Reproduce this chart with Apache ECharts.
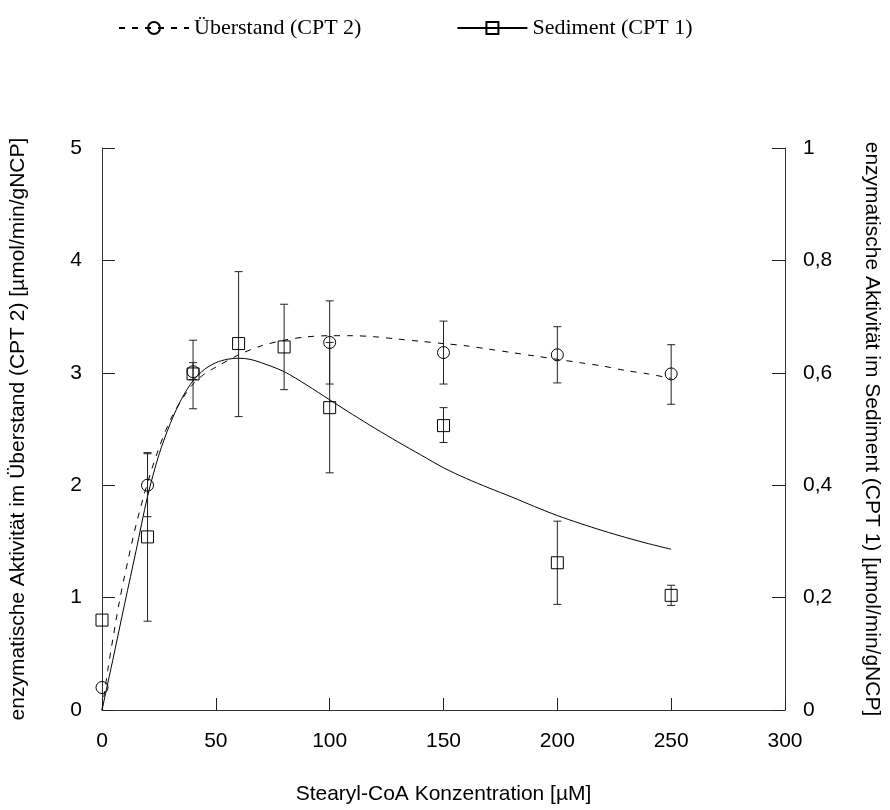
<!DOCTYPE html>
<html>
<head>
<meta charset="utf-8">
<script src="https://cdn.jsdelivr.net/npm/echarts@6/dist/echarts.min.js"></script>
<style>
html,body{margin:0;padding:0;background:#fff;}
#chart{width:890px;height:810px;}
</style>
</head>
<body>
<div id="chart"></div>
<script>
// ---- data ----
// Überstand (CPT 2) measurements, left axis
const cpt2X  = [0, 20, 40, 100, 150, 200, 250];
const cpt2Y  = [0.2, 2.0, 3.01, 3.27, 3.18, 3.16, 2.99];
const cpt2Lo = [0.2, 1.72, 2.68, 2.90, 2.90, 2.91, 2.72];
const cpt2Hi = [0.2, 2.28, 3.29, 3.64, 3.46, 3.41, 3.25];
// Sediment (CPT 1) measurements, right axis
const cpt1X  = [0, 20, 40, 60, 80, 100, 150, 200, 250];
const cpt1Y  = [0.16, 0.308, 0.598, 0.652, 0.646, 0.538, 0.506, 0.262, 0.204];
const cpt1Lo = [0.16, 0.158, 0.588, 0.522, 0.570, 0.422, 0.476, 0.188, 0.186];
const cpt1Hi = [0.16, 0.458, 0.618, 0.780, 0.722, 0.654, 0.538, 0.336, 0.222];
// fitted curves
const fit2X = [0, 2.5, 5, 7.5, 10, 15, 20, 25, 30, 35, 40, 45, 50, 60, 70, 80, 90, 100, 110, 120, 130, 140, 150, 160, 170, 180, 190, 200, 210, 220, 230, 240, 250];
const fit2Y = [0, 0.35, 0.66, 0.95, 1.2, 1.65, 2.02, 2.33, 2.58, 2.76, 2.9, 2.99, 3.05, 3.16, 3.24, 3.29, 3.32, 3.33, 3.33, 3.32, 3.3, 3.28, 3.26, 3.24, 3.21, 3.18, 3.15, 3.12, 3.09, 3.06, 3.02, 2.99, 2.95];
const fit1X = [0, 5, 10, 15, 20, 25, 30, 35, 40, 45, 50, 55, 60, 65, 70, 80, 90, 100, 110, 120, 130, 140, 150, 160, 170, 180, 190, 200, 210, 220, 230, 240, 250];
const fit1Y = [0, 0.094, 0.19, 0.284, 0.38, 0.454, 0.51, 0.554, 0.586, 0.606, 0.618, 0.624, 0.626, 0.624, 0.618, 0.602, 0.578, 0.552, 0.526, 0.501, 0.477, 0.454, 0.431, 0.412, 0.395, 0.379, 0.362, 0.346, 0.332, 0.319, 0.307, 0.296, 0.286];
// axes
const xTicks = {min: 0, max: 300, interval: 50};
const yLeft  = {min: 0, max: 5, interval: 1};
const yRight = {min: 0, max: 1, interval: 0.2};
const nameCPT2 = 'Überstand (CPT 2)';
const nameCPT1 = 'Sediment (CPT 1)';
const xName = 'Stearyl-CoA Konzentration [µM]';
const yLeftName = 'enzymatische Aktivität im Überstand (CPT 2) [µmol/min/gNCP]';
const yRightName = 'enzymatische Aktivität im Sediment (CPT 1) [µmol/min/gNCP]';

const zip = (a, b) => a.map((v, i) => [v, b[i]]);
const zip3 = (a, b, c) => a.map((v, i) => [v, b[i], c[i]]);

const SANS = 'Liberation Sans, Arial, sans-serif';
const SERIF = 'Liberation Serif, Times New Roman, serif';
const INK = '#000';

function errRender(params, api) {
  const x = api.value(0), lo = api.value(1), hi = api.value(2);
  if (hi - lo < 1e-9) return null;
  const p1 = api.coord([x, hi]);
  const p2 = api.coord([x, lo]);
  const w = 4;
  const st = {stroke: '#222', lineWidth: 1};
  return {
    type: 'group',
    children: [
      {type: 'line', shape: {x1: p1[0], y1: p1[1], x2: p2[0], y2: p2[1]}, style: st},
      {type: 'line', shape: {x1: p1[0] - w, y1: p1[1], x2: p1[0] + w, y2: p1[1]}, style: st},
      {type: 'line', shape: {x1: p2[0] - w, y1: p2[1], x2: p2[0] + w, y2: p2[1]}, style: st}
    ]
  };
}

const chart = echarts.init(document.getElementById('chart'), null, {renderer: 'canvas'});
const axisCommon = {
  axisLine: {show: true, lineStyle: {color: '#333', width: 1}},
  axisTick: {show: true, inside: true, lineStyle: {color: '#222', width: 1}},
  splitLine: {show: false},
  axisLabel: {color: INK, fontFamily: SANS, fontSize: 21},
  nameTextStyle: {color: INK, fontFamily: SANS, fontSize: 21}
};
chart.setOption({
  animation: false,
  backgroundColor: '#fff',
  grid: {left: 102, right: 101, top: 148, bottom: 98, containLabel: false},
  legend: {
    data: [nameCPT2, nameCPT1],
    left: 113, top: 12,
    itemWidth: 70, itemHeight: 15, itemGap: 95,
    textStyle: {color: INK, fontFamily: SERIF, fontSize: 22},
    selectedMode: false
  },
  xAxis: Object.assign({}, axisCommon, {
    type: 'value', min: xTicks.min, max: xTicks.max, interval: xTicks.interval,
    name: xName, nameLocation: 'middle', nameGap: 74,
    axisTick: Object.assign({}, axisCommon.axisTick, {length: 12}),
    axisLabel: Object.assign({}, axisCommon.axisLabel, {margin: 21})
  }),
  yAxis: [
    Object.assign({}, axisCommon, {
      type: 'value', position: 'left', min: yLeft.min, max: yLeft.max, interval: yLeft.interval,
      name: yLeftName, nameLocation: 'middle', nameRotate: 90, nameGap: 73,
      axisTick: Object.assign({}, axisCommon.axisTick, {length: 13}),
      axisLabel: Object.assign({}, axisCommon.axisLabel, {margin: 20})
    }),
    Object.assign({}, axisCommon, {
      type: 'value', position: 'right', min: yRight.min, max: yRight.max, interval: yRight.interval,
      name: yRightName, nameLocation: 'middle', nameRotate: -90, nameGap: 76,
      axisTick: Object.assign({}, axisCommon.axisTick, {length: 13}),
      axisLabel: Object.assign({}, axisCommon.axisLabel, {margin: 18,
        formatter: v => String(Math.round(v * 10) / 10).replace('.', ',')})
    })
  ],
  series: [
    {
      name: nameCPT2, type: 'line', yAxisIndex: 0, data: zip(fit2X, fit2Y),
      smooth: 0.3, showSymbol: false, symbol: 'circle', symbolSize: 12,
      lineStyle: {color: INK, width: 1, type: [6, 7]},
      itemStyle: {color: 'rgba(0,0,0,0)', borderColor: INK, borderWidth: 1},
      z: 3, silent: true
    },
    {
      name: nameCPT1, type: 'line', yAxisIndex: 1, data: zip(fit1X, fit1Y),
      smooth: 0.3, showSymbol: false, symbol: 'rect', symbolSize: 12,
      lineStyle: {color: INK, width: 1, type: 'solid'},
      itemStyle: {color: 'rgba(0,0,0,0)', borderColor: INK, borderWidth: 1},
      z: 3, silent: true
    },
    {
      name: 'err2', type: 'custom', yAxisIndex: 0, data: zip3(cpt2X, cpt2Lo, cpt2Hi),
      renderItem: errRender, z: 4, silent: true
    },
    {
      name: 'err1', type: 'custom', yAxisIndex: 1, data: zip3(cpt1X, cpt1Lo, cpt1Hi),
      renderItem: errRender, z: 4, silent: true
    },
    {
      name: 'pts2', type: 'scatter', yAxisIndex: 0, data: zip(cpt2X, cpt2Y),
      symbol: 'circle', symbolSize: 12,
      itemStyle: {color: 'rgba(0,0,0,0)', borderColor: INK, borderWidth: 1, opacity: 1},
      z: 5, silent: true
    },
    {
      name: 'pts1', type: 'scatter', yAxisIndex: 1, data: zip(cpt1X, cpt1Y),
      symbol: 'rect', symbolSize: 12,
      itemStyle: {color: 'rgba(0,0,0,0)', borderColor: INK, borderWidth: 1, opacity: 1},
      z: 5, silent: true
    }
  ]
});
</script>
</body>
</html>
